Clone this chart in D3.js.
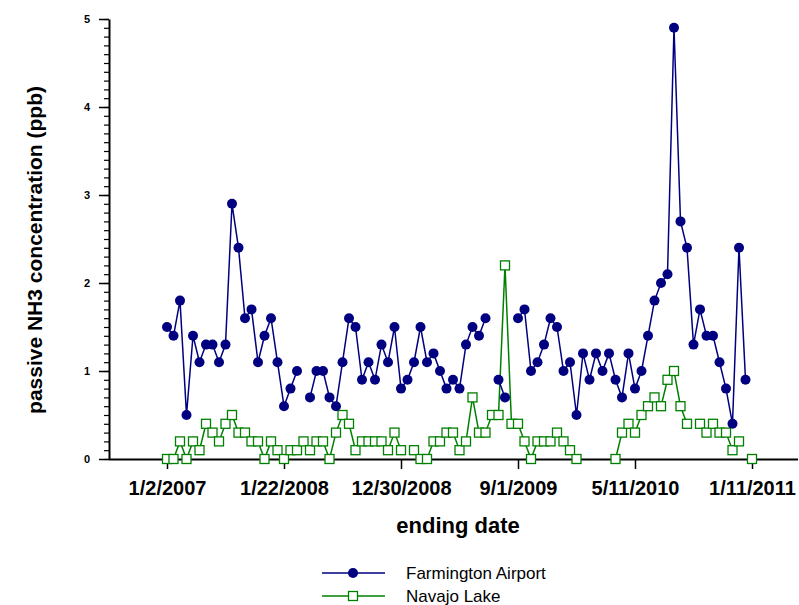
<!DOCTYPE html>
<html>
<head>
<meta charset="utf-8">
<script src="https://cdn.jsdelivr.net/npm/d3@7/dist/d3.min.js"></script>
<style>
  html, body { margin: 0; padding: 0; background: #fff; }
  svg { display: block; }
</style>
</head>
<body>
<svg id="chart" width="799" height="605"></svg>
<script>
// Sampling periods are plotted by sequence number; a few dates label the axis.
const tickIndex  = [0, 18, 36, 54, 72, 90];
const tickLabels = ["1/2/2007", "1/22/2008", "12/30/2008", "9/1/2009", "5/11/2010", "1/11/2011"];

// Passive NH3 concentration (ppb) per sampling period; null = no sample.
const farmington = [
  1.5, 1.4, 1.8, 0.5, 1.4, 1.1, 1.3, 1.3, 1.1, 1.3,
  2.9, 2.4, 1.6, 1.7, 1.1, 1.4, 1.6, 1.1, 0.6, 0.8,
  1.0, null, 0.7, 1.0, 1.0, 0.7, 0.6, 1.1, 1.6, 1.5,
  0.9, 1.1, 0.9, 1.3, 1.1, 1.5, 0.8, 0.9, 1.1, 1.5,
  1.1, 1.2, 1.0, 0.8, 0.9, 0.8, 1.3, 1.5, 1.4, 1.6,
  null, 0.9, 0.7, null, 1.6, 1.7, 1.0, 1.1, 1.3, 1.6,
  1.5, 1.0, 1.1, 0.5, 1.2, 0.9, 1.2, 1.0, 1.2, 0.9,
  0.7, 1.2, 0.8, 1.0, 1.4, 1.8, 2.0, 2.1, 4.9, 2.7,
  2.4, 1.3, 1.7, 1.4, 1.4, 1.1, 0.8, 0.4, 2.4, 0.9,
  null
];
const navajo = [
  0.0, 0.0, 0.2, 0.0, 0.2, 0.1, 0.4, 0.3, 0.2, 0.4,
  0.5, 0.3, 0.3, 0.2, 0.2, 0.0, 0.2, 0.1, 0.0, 0.1,
  0.1, 0.2, 0.1, 0.2, 0.2, 0.0, 0.3, 0.5, 0.4, 0.1,
  0.2, 0.2, 0.2, 0.2, 0.1, 0.3, 0.1, null, 0.1, 0.0,
  0.0, 0.2, 0.2, 0.3, 0.3, 0.1, 0.2, 0.7, 0.3, 0.3,
  0.5, 0.5, 2.2, 0.4, 0.4, 0.2, 0.0, 0.2, 0.2, 0.2,
  0.3, 0.2, 0.1, 0.0, null, null, null, null, null, 0.0,
  0.3, 0.4, 0.3, 0.5, 0.6, 0.7, 0.6, 0.9, 1.0, 0.6,
  0.4, null, 0.4, 0.3, 0.4, 0.3, 0.3, 0.1, 0.2, null,
  0.0
];

const seriesNames  = ["Farmington Airport", "Navajo Lake"];
const seriesColors = ["#000080", "#008000"];

const svg = d3.select("#chart");
const FONT = "'Liberation Sans', Arial, Helvetica, sans-serif";

const x = d3.scaleLinear().domain([-9, 97]).range([108.5, 797.5]);
const y = d3.scaleLinear().domain([0, 5]).range([459, 19]);

// ---- y axis: minor ticks every 0.1, labelled majors every 1
const yMinor = d3.axisLeft(y).tickValues(d3.range(0, 50.5, 1).map(v => v / 10))
  .tickSize(5).tickSizeOuter(0).tickFormat("");
svg.append("g").attr("transform", "translate(109,0)").call(yMinor)
  .call(g => g.select(".domain").remove())
  .call(g => g.selectAll("line").attr("stroke", "#000").attr("stroke-width", 1.2));

const yMajor = d3.axisLeft(y).tickValues([0, 1, 2, 3, 4, 5])
  .tickSize(10).tickSizeOuter(0).tickPadding(9).tickFormat(d3.format("d"));
svg.append("g").attr("transform", "translate(109,0)").call(yMajor)
  .call(g => g.select(".domain").attr("stroke", "#000").attr("stroke-width", 2))
  .call(g => g.selectAll("line").attr("stroke", "#000").attr("stroke-width", 1.5))
  .call(g => g.selectAll("text").attr("font-family", FONT).attr("font-size", 11)
    .attr("font-weight", "bold").attr("fill", "#000"));

// ---- x axis: index scale, labelled by period end dates
const xAxis = d3.axisBottom(x).tickValues(tickIndex)
  .tickSize(10).tickSizeOuter(0).tickPadding(12)
  .tickFormat((d, i) => tickLabels[i]);
svg.append("g").attr("transform", "translate(0,459)").call(xAxis)
  .call(g => g.select(".domain").attr("stroke", "#000").attr("stroke-width", 2))
  .call(g => g.selectAll("line").attr("stroke", "#000").attr("stroke-width", 1.5))
  .call(g => g.selectAll("text").attr("font-family", FONT).attr("font-size", 20)
    .attr("font-weight", "bold").attr("fill", "#000"));

// ---- axis titles
svg.append("text")
  .attr("x", 458).attr("y", 533)
  .attr("text-anchor", "middle")
  .attr("font-family", FONT).attr("font-size", 22).attr("font-weight", "bold")
  .text("ending date");

svg.append("text")
  .attr("transform", "translate(42,250) rotate(-90)")
  .attr("text-anchor", "middle")
  .attr("font-family", FONT).attr("font-size", 21).attr("font-weight", "bold")
  .text("passive NH3 concentration (ppb)");

// ---- series
const line = d3.line()
  .defined(d => d.v !== null)
  .x(d => x(d.i))
  .y(d => y(d.v));

const toPoints = arr => arr.map((v, i) => ({ i, v }));

function drawSeries(values, color, marker) {
  const pts = toPoints(values);
  const g = svg.append("g");
  g.append("path").datum(pts)
    .attr("fill", "none").attr("stroke", color).attr("stroke-width", 1.5)
    .attr("d", line);
  const valid = pts.filter(d => d.v !== null);
  if (marker === "circle") {
    g.selectAll("circle").data(valid).join("circle")
      .attr("cx", d => x(d.i)).attr("cy", d => y(d.v)).attr("r", 5)
      .attr("fill", color);
  } else {
    g.selectAll("rect").data(valid).join("rect")
      .attr("x", d => x(d.i) - 4.5).attr("y", d => y(d.v) - 4.5)
      .attr("width", 9).attr("height", 9)
      .attr("fill", "#fff").attr("stroke", color).attr("stroke-width", 1.3);
  }
}

drawSeries(navajo, seriesColors[1], "square");
drawSeries(farmington, seriesColors[0], "circle");

// ---- legend
const legendY = [573, 596];
const legendMarkers = ["circle", "square"];
seriesNames.forEach((name, k) => {
  const g = svg.append("g").attr("transform", `translate(0,${legendY[k]})`);
  g.append("line").attr("x1", 322).attr("x2", 385).attr("y1", 0).attr("y2", 0)
    .attr("stroke", seriesColors[k]).attr("stroke-width", 1.5);
  if (legendMarkers[k] === "circle") {
    g.append("circle").attr("cx", 353).attr("cy", 0).attr("r", 5).attr("fill", seriesColors[k]);
  } else {
    g.append("rect").attr("x", 348.5).attr("y", -4.5).attr("width", 9).attr("height", 9)
      .attr("fill", "#fff").attr("stroke", seriesColors[k]).attr("stroke-width", 1.3);
  }
  g.append("text").attr("x", 406).attr("y", 6)
    .attr("font-family", FONT).attr("font-size", 17).attr("fill", "#000")
    .text(name);
});
</script>
</body>
</html>
